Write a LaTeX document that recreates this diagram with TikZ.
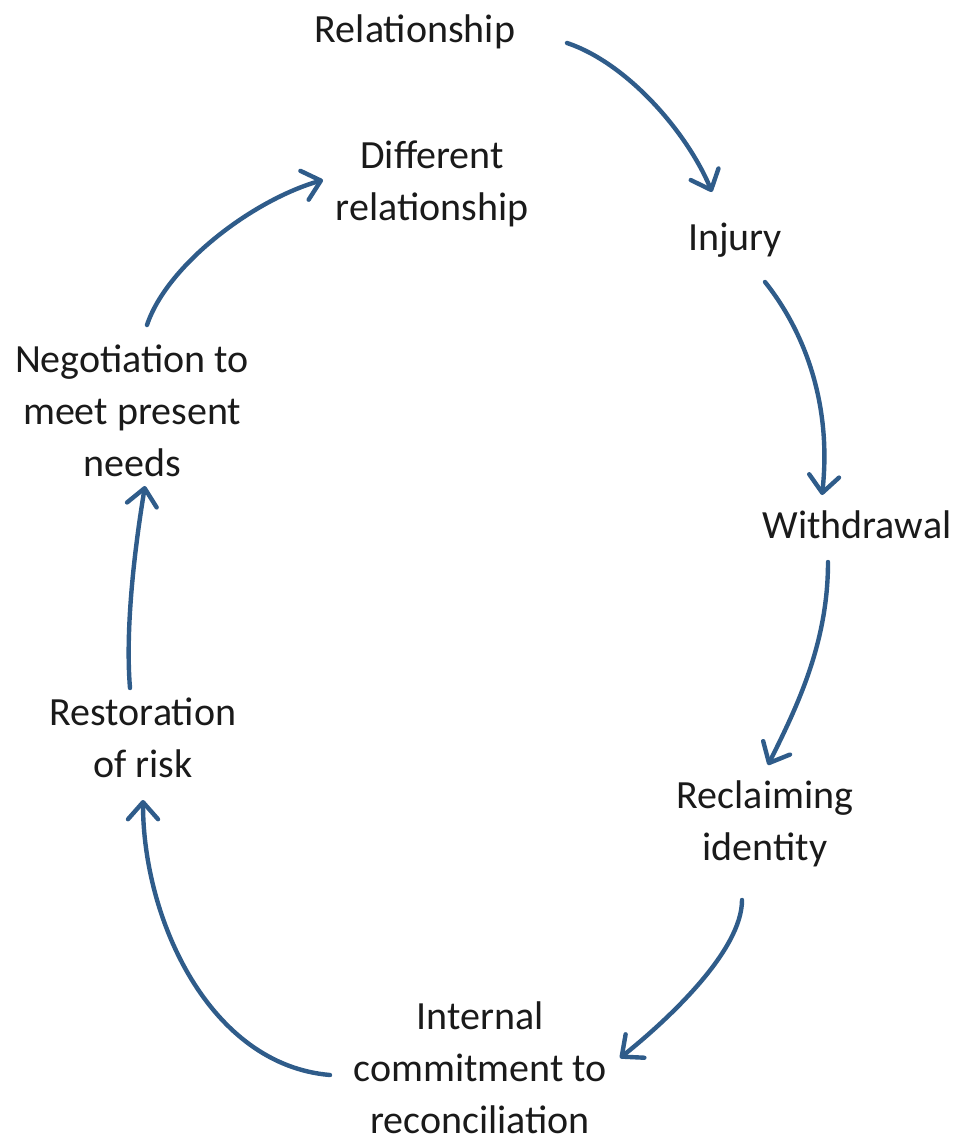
\documentclass[tikz,border=0pt]{standalone}
\usepackage{fontspec}
\setmainfont{Carlito}
\usetikzlibrary{arrows.meta}
\definecolor{arrowblue}{HTML}{2F5C8A}
\definecolor{txt}{HTML}{1A1A1A}
\begin{document}
\begin{tikzpicture}[x=1pt,y=-1pt,
  lbl/.style={align=center,inner sep=0pt,text=txt,font=\fontsize{40}{52}\selectfont},
  conn/.style={draw=arrowblue,line width=4.4pt,line cap=round,line join=round,
    -{Straight Barb[length=17pt,width=30pt,round]}}]
\useasboundingbox (0,0) rectangle (958,1143);
\node[lbl] (rel) at (415,32) {Relationship};
\node[lbl] (dif) at (432,184) {Different\\relationship};
\node[lbl] (inj) at (735,240) {Injury};
\node[lbl] (wd) at (857,525) {Withdrawal};
\node[lbl] (rec) at (765,824) {Reclaiming\\identity};
\node[lbl] (int) at (480,1068) {Internal\\commitment to\\reconciliation};
\node[lbl] (res) at (143,738) {Restoration\\of risk};
\node[lbl] (neg) at (132,411) {Negotiation to\\meet present\\needs};
\draw[conn] ([shift={(152,11)}]rel.center) .. controls +(60,20) and +(-25,-60) .. ([shift={(-23,-48)}]inj.center);
\draw[conn] ([shift={(30,42)}]inj.center) .. controls +(40,50) and +(10,-90) .. ([shift={(-35,-30)}]wd.center);
\draw[conn] ([shift={(-29,37)}]wd.center) .. controls +(0,80) and +(30,-60) .. ([shift={(3,-59)}]rec.center);
\draw[conn] ([shift={(-23,76)}]rec.center) .. controls +(0,50) and +(50,-40) .. ([shift={(140,-10)}]int.center);
\draw[conn] ([shift={(-150,7)}]int.center) .. controls +(-120,-10) and +(0,120) .. ([shift={(0,62)}]res.center);
\draw[conn] ([shift={(-13,-50)}]res.center) .. controls +(-5,-60) and +(-10,60) .. ([shift={(13,75)}]neg.center);
\draw[conn] ([shift={(15,-86)}]neg.center) .. controls +(20,-60) and +(-70,20) .. ([shift={(-109,-4)}]dif.center);
\end{tikzpicture}
\end{document}
